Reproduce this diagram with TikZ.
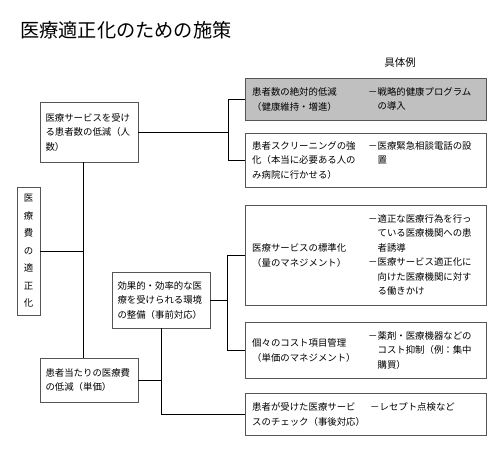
\documentclass[tikz,border=0pt]{standalone}
\usepackage{fontspec}
\usepackage{tikz}
\usetikzlibrary{calc}
\newfontfamily\jp{Noto Sans CJK JP}
\newcommand\bodyfont{\jp\fontsize{9.4}{14.5}\selectfont}
\definecolor{boxgray}{HTML}{C0C0C0}
\definecolor{edgegray}{HTML}{555555}

\begin{document}
\begin{tikzpicture}[x=1pt,y=-1pt,
    lbox/.style={draw=edgegray,line width=0.6pt,inner xsep=5.5pt,inner ysep=3pt,text width=87pt,align=left,font=\bodyfont},
    rbox/.style={draw=edgegray,line width=0.6pt,minimum width=241pt,anchor=north west,inner sep=0pt},
    txt/.style={inner sep=0pt,align=left,font=\bodyfont},
    conn/.style={line width=0.7pt}]
    \useasboundingbox (0,0) rectangle (500,452);
    \node[anchor=west,inner sep=0pt,font=\jp\fontsize{19.2}{23}\selectfont] (title) at (20,30) {医療適正化のための施策};
    \node[inner sep=0pt,font=\jp\fontsize{10.5}{12}\selectfont] (rei) at (400,63) {具体例};
    % left side
    \node[lbox,minimum height=60pt] (b1) at (89,132) {医療サービスを受け\\る患者数の低減（人\\数）};
    \node[draw=edgegray,line width=0.6pt,minimum width=23pt,minimum height=128pt,inner sep=0pt,align=center,font=\jp\fontsize{9.4}{17.5}\selectfont] (top) at (28.5,251) {医\\療\\費\\の\\適\\正\\化};
    \node[lbox,minimum height=56pt] (b3) at (161,300) {効果的・効率的な医\\療を受けられる環境\\の整備（事前対応）};
    \node[lbox,minimum height=44pt] (b4) at (89,380) {患者当たりの医療費\\の低減（単価）};
    % right side
    \node[rbox,fill=boxgray,minimum height=42pt] (s1) at (245,78) {};
    \node[rbox,minimum height=54pt] (s2) at (245,133) {};
    \node[rbox,minimum height=100pt] (s5) at (245,205) {};
    \node[rbox,minimum height=56pt] (s6) at (245,322) {};
    \node[rbox,minimum height=42pt] (s7) at (245,393) {};
    \node[txt,anchor=west] (s1a) at ([xshift=7pt]s1.west) {患者数の絶対的低減\\（健康維持・増進）};
    \node[txt,anchor=west] (s1b) at (368,99) {－戦略的健康プログラム\\　の導入};
    \node[txt,anchor=west] (s2a) at ([xshift=7pt]s2.west) {患者スクリーニングの強\\化（本当に必要ある人の\\み病院に行かせる）};
    \node[txt,anchor=north west] (s2b) at (368,0 |- s2a.north) {－医療緊急相談電話の設\\　置};
    \node[txt,anchor=west] (s5a) at ([xshift=7pt]s5.west) {医療サービスの標準化\\（量のマネジメント）};
    \node[txt,anchor=west] (s5b) at (368,255) {－適正な医療行為を行っ\\　ている医療機関への患\\　者誘導\\－医療サービス適正化に\\　向けた医療機関に対す\\　る働きかけ};
    \node[txt,anchor=west] (s6a) at ([xshift=7pt]s6.west) {個々のコスト項目管理\\（単価のマネジメント）};
    \node[txt,anchor=west] (s6b) at (368,350) {－薬剤・医療機器などの\\　コスト抑制（例：集中\\　購買）};
    \node[txt,anchor=west] (s7a) at ([xshift=7pt]s7.west) {患者が受けた医療サービ\\スのチェック（事後対応）};
    \node[txt,anchor=north west] (s7b) at (370,0 |- s7a.north) {－レセプト点検など};
    % connectors
    \coordinate (j1) at ([xshift=-17pt]s1.west);
    \coordinate (j2) at ([xshift=-18pt]s5.west);
    \draw[conn] (s1.west) -- (j1) |- (s2.west);
    \draw[conn] (b1.east) -- (b1.east -| j1);
    \draw[conn] ([xshift=-6pt]b1.south) -- ([xshift=-6pt]b4.north);
    \draw[conn] (top.east) -- (top.east -| {$(b1.south)+(-6,0)$});
    \draw[conn] (s5.west) -- (j2) |- (s6.west);
    \draw[conn] (b3.east) -- (b3.east -| j2);
    \draw[conn] (b3.south) |- (s7.west);
    \draw[conn] (b4.east) -- (b4.east -| b3.south);
\end{tikzpicture}
\end{document}
